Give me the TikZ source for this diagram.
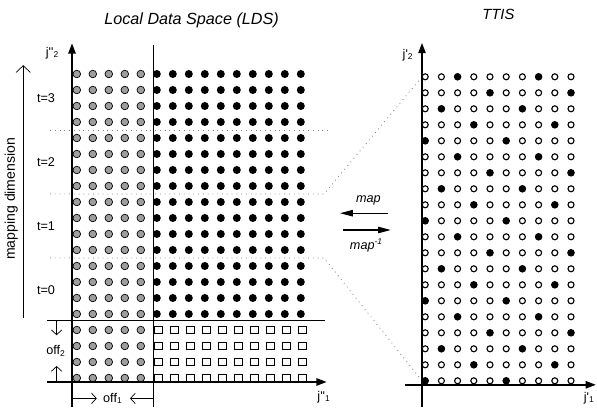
\documentclass[tikz,border=0pt]{standalone}
\usepackage{fontspec}
\setmainfont{Liberation Sans}
\usetikzlibrary{arrows.meta}

\tikzset{
    axisline/.style={line width=1.4pt, -{Triangle[length=2.6mm,width=1.8mm]}},
    halo/.style={fill=black!38, draw=black, line width=0.5pt},
    owned/.style={fill=black},
    offcell/.style={fill=white, draw=black, line width=0.5pt},
    ttiscell/.style={fill=white, draw=black, line width=0.8pt},
    tileline/.style={gray, line width=0.6pt, dash pattern=on 0.6pt off 2.8pt},
    offarrow/.style={line width=0.5pt, -{Straight Barb[length=1.2mm,width=2.6mm]}},
    maparrow/.style={line width=0.9pt, -{Triangle[length=3.2mm,width=1.6mm]}},
    lbl/.style={font=\fontsize{9}{10}\selectfont, inner sep=1pt}
}

\begin{document}
\begin{tikzpicture}
    \useasboundingbox (-1.8,-0.85) rectangle (13.125,9.55);
    % Titles of the two spaces.
        \node[font=\fontsize{11.5}{13}\selectfont\itshape] (ldstitle) at (2.99,9.04) {Local Data Space (LDS)};
        \node[font=\fontsize{10.5}{12}\selectfont\itshape] (ttistitle) at (10.66,9.2) {TTIS};

    % LDS points: gray halo columns, black tile points, white offset squares.
    \foreach \c in {0,...,4}
        \foreach \r in {0,...,19}
            \filldraw[halo] (0.12+0.4*\c, 0.1+0.4*\r) circle (0.095);
    \foreach \c in {5,...,14}
        \foreach \r in {4,...,19}
            \fill[owned] (0.12+0.4*\c, 0.1+0.4*\r) circle (0.1);
    \foreach \c in {5,...,14}
        \foreach \r in {0,...,3}
            \filldraw[offcell] (0.07+0.4*\c, 0.01+0.4*\r) rectangle ++(0.18,0.18);

    % Tile borders, the t=1 tile goes over to the TTIS.
    \coordinate (ttistop) at (8.75,7.63);
    \coordinate (ttisbot) at (8.75,0.03);
    \draw[tileline] (-0.55,6.3) -- (6.4,6.3);
    \draw[tileline] (-0.55,4.7) -- (6.3,4.7) -- (ttistop);
    \draw[tileline] (-0.55,3.1) -- (6.3,3.1) -- (ttisbot);

    % LDS axes, offset line and halo border.
    \draw[line width=0.6pt] (-0.63,1.55) -- (6.32,1.55);
    \draw[line width=0.6pt] (2.04,-0.62) -- (2.04,8.43);
    \draw[axisline] (0,-0.62) -- (0,8.47);
    \draw[axisline] (-0.63,0) -- (6.37,0);
    \node[lbl] (jpp2) at (-0.49,8.22) {j\textquotesingle\textquotesingle\textsubscript{2}};
    \node[lbl] (jpp1) at (6.3,-0.38) {j\textquotesingle\textquotesingle\textsubscript{1}};

    % Tile numbers.
    \foreach \t in {0,...,3}
        \node[lbl] (t\t) at (-0.65, 2.3+1.6*\t) {t=\t};

    % Mapping dimension.
    \draw[line width=0.5pt, -{Straight Barb[length=1.7mm,width=3.6mm]}] (-1.22,1.6) -- (-1.22,7.92);
    \node[rotate=90, font=\fontsize{10}{12}\selectfont] (mapdim) at (-1.52,4.58) {mapping dimension};

    % Offsets.
        \node[lbl] (off2) at (-0.4,0.78) {off\textsubscript{2}};
        \draw[offarrow] (-0.385,1.55) -- (-0.385,1.17);
        \draw[offarrow] (-0.385,0) -- (-0.385,0.4);
        \node[lbl] (off1) at (1.02,-0.41) {off\textsubscript{1}};
        \draw[offarrow] (0,-0.41) -- (0.62,-0.41);
        \draw[offarrow] (2.04,-0.41) -- (1.45,-0.41);

    % TTIS points, every fifth one is filled.
    \foreach \c in {0,...,9}
        \foreach \r in {0,...,19}{
            \pgfmathtruncatemacro{\hit}{mod(\c+2*\r,5)}
            \ifnum\hit=0
                \fill (8.83+0.405*\c, 0.03+0.4*\r) circle (0.095);
            \else
                \filldraw[ttiscell] (8.83+0.405*\c, 0.03+0.4*\r) circle (0.075);
            \fi
        }
    \draw[axisline] (8.75,-0.62) -- (8.75,8.48);
    \draw[axisline] (8.33,-0.07) -- (13.1,-0.07);
    \node[lbl] (jp2) at (8.4,8.18) {j\textquotesingle\textsubscript{2}};
    \node[lbl] (jp1) at (12.93,-0.4) {j\textquotesingle\textsubscript{1}};

    % map and its inverse.
        \node[lbl, font=\fontsize{9}{10}\selectfont\itshape] (map) at (7.41,4.55) {map};
        \node[lbl, font=\fontsize{9}{10}\selectfont\itshape] (mapinv) at (7.36,3.42) {map\textsuperscript{-1}};
        \draw[maparrow] (7.9,4.22) -- (6.7,4.22);
        \draw[maparrow] (6.78,3.8) -- (7.97,3.8);
\end{tikzpicture}
\end{document}
